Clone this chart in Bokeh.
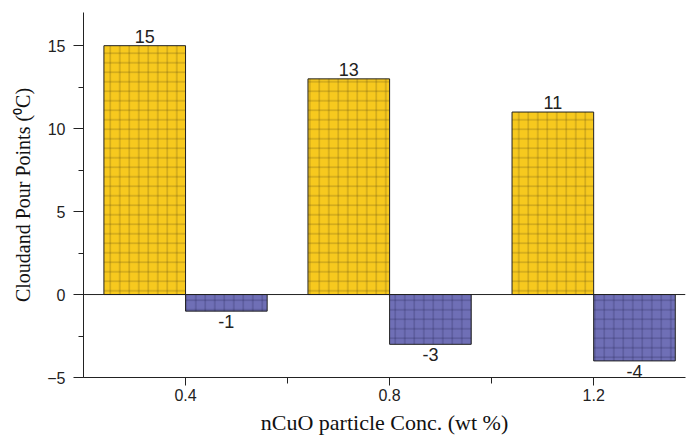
from bokeh.plotting import figure
from bokeh.models import ColumnDataSource, Range1d, FixedTicker, SingleIntervalTicker, Span
from bokeh.transform import dodge
from bokeh.core.properties import value
from bokeh.embed import file_html
from bokeh.resources import INLINE

# data
concs = [0.4, 0.8, 1.2]
cloud_point = [15, 13, 11]
pour_point = [-1, -3, -4]
x_ticks = [0.4, 0.8, 1.2]
x_tick_labels = ["0.4", "0.8", "1.2"]

BAR_W = 0.16

src_cloud = ColumnDataSource(dict(x=concs, top=cloud_point, lbl=[str(v) for v in cloud_point]))
src_pour = ColumnDataSource(dict(x=concs, top=pour_point, lbl=[str(v) for v in pour_point]))

p = figure(width=687, height=437, output_backend="svg", toolbar_location=None,
           x_range=Range1d(0.2, 1.38), y_range=Range1d(-5, 17),
           min_border_left=83, min_border_right=2, min_border_top=12, min_border_bottom=60)
p.outline_line_color = None
p.xgrid.visible = False
p.ygrid.visible = False
p.background_fill_color = "white"
p.border_fill_color = "white"

p.vbar(x=dodge('x', -BAR_W / 2, range=p.x_range), top='top', bottom=0, width=BAR_W, source=src_cloud,
       fill_color="#F7C91E", line_color="#222222", line_width=1,
       hatch_pattern="+", hatch_scale=9.5, hatch_color="#5a4a10", hatch_alpha=0.45, hatch_weight=0.9)
p.vbar(x=dodge('x', BAR_W / 2, range=p.x_range), top='top', bottom=0, width=BAR_W, source=src_pour,
       fill_color="#6F6FB6", line_color="#222222", line_width=1,
       hatch_pattern="+", hatch_scale=9.5, hatch_color="#202050", hatch_alpha=0.45, hatch_weight=0.9)

p.add_layout(Span(location=0, dimension="width", line_color="#222222", line_width=1))

p.text(x=dodge('x', -BAR_W / 2, range=p.x_range), y='top', text='lbl', source=src_cloud,
       text_align="center", text_baseline="bottom", y_offset=-3,
       text_font=value("Liberation Sans"), text_font_size="18px", text_color="#222222")
p.text(x=dodge('x', BAR_W / 2, range=p.x_range), y='top', text='lbl', source=src_pour,
       text_align="center", text_baseline="top", y_offset=4,
       text_font=value("Liberation Sans"), text_font_size="18px", text_color="#222222")

# x axis
xa = p.xaxis[0]
xa.ticker = FixedTicker(ticks=x_ticks, minor_ticks=[0.6, 1.0])
xa.major_label_overrides = {t: l for t, l in zip(x_ticks, x_tick_labels)}
xa.axis_label = "nCuO particle Conc. (wt %)"
xa.axis_label_text_font = "Liberation Serif"
xa.axis_label_text_font_size = "22px"
xa.axis_label_text_font_style = "normal"
xa.axis_label_text_color = "#111111"
xa.axis_label_standoff = 6
xa.major_label_text_font = "Liberation Sans"
xa.major_label_text_font_size = "16px"
xa.major_label_text_color = "#222222"
xa.major_label_standoff = 3
xa.major_tick_in = 0
xa.major_tick_out = 8
xa.minor_tick_in = 0
xa.minor_tick_out = 6
xa.axis_line_color = "#222222"
xa.major_tick_line_color = "#222222"
xa.minor_tick_line_color = "#222222"

# y axis
ya = p.yaxis[0]
ya.ticker = SingleIntervalTicker(interval=5, num_minor_ticks=2)
ya.axis_label = "Cloudand Pour Points (⁰C)"
ya.axis_label_text_font = "Liberation Serif"
ya.axis_label_text_font_size = "20px"
ya.axis_label_text_font_style = "normal"
ya.axis_label_text_color = "#111111"
ya.axis_label_standoff = 10
ya.major_label_text_font = "Liberation Sans"
ya.major_label_text_font_size = "16px"
ya.major_label_text_color = "#222222"
ya.major_label_standoff = 8
ya.major_tick_in = 0
ya.major_tick_out = 10
ya.minor_tick_in = 0
ya.minor_tick_out = 5
ya.axis_line_color = "#222222"
ya.major_tick_line_color = "#222222"
ya.minor_tick_line_color = "#222222"

open("out.html", "w").write(file_html(p, INLINE))
